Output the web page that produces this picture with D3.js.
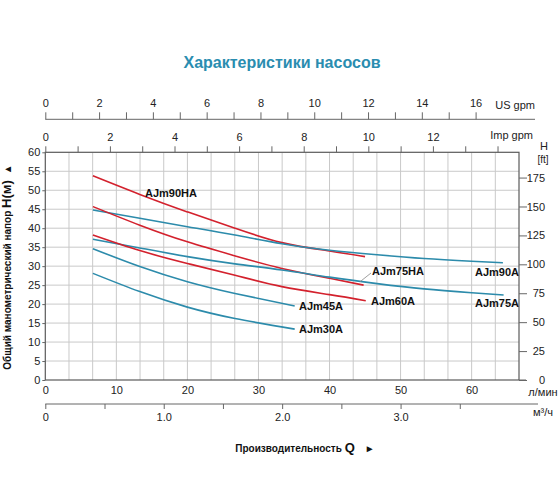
<!DOCTYPE html>
<html>
<head>
<meta charset="utf-8">
<script src="https://cdn.jsdelivr.net/npm/d3@7"></script>
<style>
  body { margin: 0; background: #fff; }
  svg { font-family: "Liberation Sans", Arial, sans-serif; }
  .axis text { font-size: 11px; fill: #222; }
  .axis path, .axis line { stroke: #666; }
  .lbl { font-size: 11px; font-weight: bold; fill: #111; }
</style>
</head>
<body>
<div id="chart-area"></div>
<script>
// flow in l/min, head in m
var names = ["AJm90HA", "AJm90A", "AJm75HA", "AJm75A", "AJm60A", "AJm45A", "AJm30A"];
var kinds = ["red", "teal", "red", "teal", "red", "teal", "teal"];

var flow90HA = [6.7, 13.3, 20, 26.7, 33.3, 40, 45];
var head90HA = [53.8, 48.9, 44.3, 40.0, 36.2, 34.0, 32.5];

var flow90A = [6.7, 13.3, 20, 26.7, 33.3, 40, 46.7, 53.3, 60, 64.4];
var head90A = [44.8, 42.6, 40.4, 38.2, 35.9, 34.2, 33.0, 32.0, 31.3, 30.9];

var flow75HA = [6.7, 13.3, 20, 26.7, 33.3, 40, 44.8];
var head75HA = [45.7, 40.8, 36.4, 32.7, 29.4, 26.8, 25.0];

var flow75A = [6.7, 13.3, 20, 26.7, 33.3, 40, 46.7, 53.3, 60, 64.5];
var head75A = [37.1, 34.8, 32.5, 30.6, 29.0, 27.1, 25.4, 24.0, 23.0, 22.4];

var flow60A = [6.7, 13.3, 20, 26.7, 33.3, 40, 45.1];
var head60A = [38.2, 34.1, 30.7, 27.6, 24.6, 22.5, 20.9];

var flow45A = [6.7, 13.3, 20, 26.7, 35.1];
var head45A = [34.6, 29.9, 25.9, 22.8, 19.5];

var flow30A = [6.7, 13.3, 20, 26.7, 35.1];
var head30A = [28.1, 23.3, 19.2, 16.2, 13.4];

var lpmTicks = [0, 10, 20, 30, 40, 50, 60];
var m3Labels = [0, 1, 2, 3];
var ftTicks = [0, 25, 50, 75, 100, 125, 150, 175];
var mTicks = [0, 5, 10, 15, 20, 25, 30, 35, 40, 45, 50, 55, 60];

var flows = [flow90HA, flow90A, flow75HA, flow75A, flow60A, flow45A, flow30A];
var heads = [head90HA, head90A, head75HA, head75A, head60A, head45A, head30A];

var colors = {red: "#d3212d", teal: "#2c8bab"};

var svgW = 560, svgH = 504;
var pLeft = 45.3, pRight = 519, pTop = 152.3, pBottom = 380;
var qMax = 200 / 3; // 4 m3/h in l/min

var svg = d3.select("#chart-area").append("svg")
  .attr("width", svgW)
  .attr("height", svgH);

// scales
var x = d3.scaleLinear().domain([0, qMax]).range([pLeft, pRight]);
var y = d3.scaleLinear().domain([0, 60]).range([pBottom, pTop]);
var xM3 = d3.scaleLinear().domain([0, 4]).range([pLeft, pRight]);
var xUS = d3.scaleLinear().domain([0, qMax / 3.785]).range([pLeft, pRight]);
var xImp = d3.scaleLinear().domain([0, qMax / 4.546]).range([pLeft, pRight]);
var yFt = d3.scaleLinear().domain([0, 60 * 3.2808]).range([pBottom, pTop]);

// title
svg.append("text")
  .attr("x", 282)
  .attr("y", 68)
  .attr("text-anchor", "middle")
  .style("font-size", "16px")
  .style("font-weight", "bold")
  .style("fill", "#2a8db0")
  .text("Характеристики насосов");

// grid
var grid = svg.append("g");
grid.selectAll(".vg")
  .data(d3.range(1, 20).map(function (i) { return i * 0.2; }))
  .enter().append("line")
  .attr("x1", function (d) { return xM3(d); })
  .attr("x2", function (d) { return xM3(d); })
  .attr("y1", pTop)
  .attr("y2", pBottom)
  .attr("stroke", "#c9c9c9")
  .attr("stroke-width", 1);

grid.selectAll(".hg")
  .data(mTicks.slice(1, -1))
  .enter().append("line")
  .attr("x1", pLeft)
  .attr("x2", pRight)
  .attr("y1", function (d) { return y(d); })
  .attr("y2", function (d) { return y(d); })
  .attr("stroke", "#c9c9c9")
  .attr("stroke-width", 1);

svg.append("rect")
  .attr("x", pLeft)
  .attr("y", pTop)
  .attr("width", pRight - pLeft)
  .attr("height", pBottom - pTop)
  .attr("fill", "none")
  .attr("stroke", "#5a5a5a")
  .attr("stroke-width", 1.2);

// left axis (m)
var yAxis = svg.append("g")
  .attr("class", "axis")
  .attr("transform", "translate(" + pLeft + ",0)")
  .call(d3.axisLeft(y).tickValues(mTicks).tickSize(3).tickPadding(2));
yAxis.select(".domain").remove();

// right axis (ft)
var ftAxis = svg.append("g")
  .attr("class", "axis")
  .attr("transform", "translate(" + pRight + ",0)")
  .call(d3.axisRight(yFt).tickValues(ftTicks).tickSize(8).tickPadding(0));
ftAxis.select(".domain").remove();
ftAxis.selectAll("text").attr("text-anchor", "end").attr("x", 26);

svg.append("text").attr("x", 544).attr("y", 150).attr("text-anchor", "middle")
  .style("font-size", "11px").style("fill", "#222").text("H");
svg.append("text").attr("x", 543).attr("y", 163).attr("text-anchor", "middle")
  .style("font-size", "10px").style("fill", "#222").text("[ft]");

// bottom axis (l/min)
var lpmAxis = svg.append("g")
  .attr("class", "axis")
  .attr("transform", "translate(0," + pBottom + ")")
  .call(d3.axisBottom(x).tickValues(lpmTicks).tickSize(0).tickPadding(6));
lpmAxis.select(".domain").remove();
svg.append("line").attr("x1", pRight).attr("x2", 526).attr("y1", pBottom).attr("y2", pBottom)
  .attr("stroke", "#666");
svg.append("text").attr("x", 543).attr("y", 396).attr("text-anchor", "middle")
  .style("font-size", "11px").style("fill", "#222").text("л/мин");

// m3/h axis
var m3Axis = svg.append("g")
  .attr("class", "axis")
  .attr("transform", "translate(0,404)")
  .call(d3.axisBottom(xM3).tickValues(d3.range(0, 4, 0.5)).tickSize(5).tickPadding(4)
    .tickFormat(function (d) { return m3Labels.indexOf(d) < 0 ? "" : (d === 0 ? "0" : d.toFixed(1)); }));
m3Axis.select(".domain").attr("d", "M" + pLeft + ",0H538");
svg.append("text").attr("x", 543).attr("y", 416).attr("text-anchor", "middle")
  .style("font-size", "11px").style("fill", "#222").text("м³/ч");

// top axis US gpm
var usAxis = svg.append("g")
  .attr("class", "axis")
  .attr("transform", "translate(0,119.3)")
  .call(d3.axisTop(xUS).tickValues(d3.range(0, 17)).tickSize(7).tickPadding(5)
    .tickFormat(function (d) { return d % 2 === 0 ? d : ""; }));
usAxis.select(".domain").attr("d", "M" + pLeft + ",0H535");
svg.append("text").attr("x", 535).attr("y", 109).attr("text-anchor", "end")
  .style("font-size", "11px").style("fill", "#222").text("US gpm");

// top axis Imp gpm
var impAxis = svg.append("g")
  .attr("class", "axis")
  .attr("transform", "translate(0," + pTop + ")")
  .call(d3.axisTop(xImp).tickValues(d3.range(0, 15)).tickSize(6).tickPadding(5)
    .tickFormat(function (d) { return d % 2 === 0 && d < 14 ? d : ""; }));
impAxis.select(".domain").remove();
svg.append("text").attr("x", 533).attr("y", 139).attr("text-anchor", "end")
  .style("font-size", "11px").style("fill", "#222").text("Imp gpm");

// axis titles
var yTitle = svg.append("text")
  .attr("transform", "translate(11,267) rotate(-90)")
  .attr("text-anchor", "middle")
  .style("font-weight", "bold")
  .style("fill", "#111");
yTitle.append("tspan").style("font-size", "10px").text("Общий манометрический напор ");
yTitle.append("tspan").style("font-size", "13px").text("H(м)");
yTitle.append("tspan").attr("dx", 6).style("font-size", "10px").text("▲");

var xTitle = svg.append("text")
  .attr("x", 305)
  .attr("y", 452)
  .attr("text-anchor", "middle")
  .style("font-weight", "bold")
  .style("fill", "#111");
xTitle.append("tspan").style("font-size", "10px").text("Производительность ");
xTitle.append("tspan").style("font-size", "13px").text("Q");
xTitle.append("tspan").attr("dx", 10).style("font-size", "10px").text("►");

// curves
var line = d3.line()
  .x(function (d) { return x(d[0]); })
  .y(function (d) { return y(d[1]); })
  .curve(d3.curveNatural);

names.forEach(function (name, i) {
  var pts = flows[i].map(function (q, j) { return [q, heads[i][j]]; });
  svg.append("path")
    .datum(pts)
    .attr("fill", "none")
    .attr("stroke", colors[kinds[i]])
    .attr("stroke-width", 1.6)
    .attr("d", line);
});

// curve labels
var labelPos = {
  "AJm90HA": [145, 197, "start"],
  "AJm75HA": [372, 275, "start"],
  "AJm90A": [519, 276, "end"],
  "AJm75A": [519, 307, "end"],
  "AJm60A": [371, 305, "start"],
  "AJm45A": [299, 310, "start"],
  "AJm30A": [299, 333, "start"]
};
names.forEach(function (name) {
  var p = labelPos[name];
  svg.append("text")
    .attr("class", "lbl")
    .attr("x", p[0])
    .attr("y", p[1])
    .attr("text-anchor", p[2])
    .text(name);
});

// leader for AJm75HA
svg.append("line")
  .attr("x1", x(44.3)).attr("y1", y(25.9))
  .attr("x2", 371).attr("y2", 273)
  .attr("stroke", "#888")
  .attr("stroke-width", 0.8);
</script>
</body>
</html>
